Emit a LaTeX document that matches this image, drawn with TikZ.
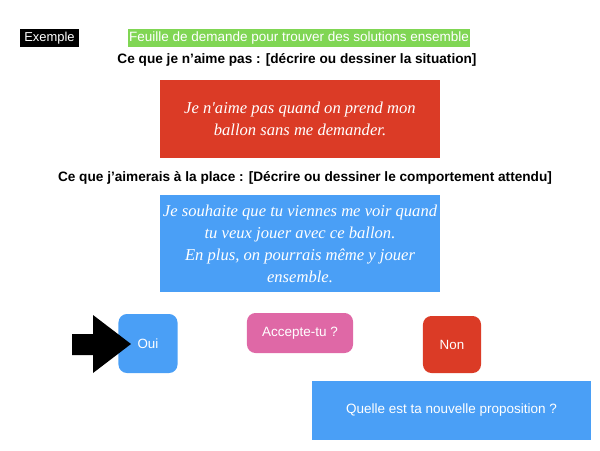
\documentclass[tikz,border=0pt]{standalone}
\usepackage{fontspec}
\setmainfont{Liberation Sans}
\newfontfamily\mainmanuscrite{Liberation Serif}
\definecolor{rouge}{HTML}{DB3B26}
\definecolor{bleu}{HTML}{4A9FF6}
\definecolor{rose}{HTML}{DF68A6}
\definecolor{vert}{HTML}{80D654}
\begin{document}
\begin{tikzpicture}
		[x=0.025cm,y=-0.025cm,
		box/.style={fill=#1,text=white,inner sep=0pt,align=center},
		titre/.style={font=\fontsize{9.7}{11}\selectfont\bfseries},
		manuscrit/.style={font=\fontsize{11.8}{15.6}\mainmanuscrite\itshape}]
		
		\useasboundingbox (0,0) rectangle (600,450);
		
		\node[box=black,minimum width=1.475cm,minimum height=0.45cm,font=\fontsize{9.2}{10}\selectfont] (exemple) at (49.5,38){Exemple};
		\node[box=vert,minimum width=8.55cm,minimum height=0.45cm,font=\fontsize{9.6}{10}\selectfont] (feuille) at (299,38){Feuille de demande pour trouver des solutions ensemble};
		\node[titre] (titreA) at (297,60){Ce que je n'aime pas : [décrire ou dessiner la situation]};
		\node[box=rouge,minimum width=7cm,minimum height=1.95cm,manuscrit] (situation) at (300,119){Je n'aime pas quand on prend mon\\ballon sans me demander.};
		\node[titre] (titreB) at (305,178){Ce que j'aimerais à la place : [Décrire ou dessiner le comportement attendu]};
		\node[box=bleu,minimum width=7cm,minimum height=2.425cm,manuscrit] (souhait) at (300,243.5){Je souhaite que tu viennes me voir quand\\tu veux jouer avec ce ballon.\\En plus, on pourrais même y jouer\\ensemble.};
		
		\node[box=bleu,rounded corners=6pt,minimum width=1.475cm,minimum height=1.475cm,font=\fontsize{9.5}{10}\selectfont] (oui) at (148,343.5){Oui};
		\node[box=rose,rounded corners=6pt,minimum width=2.65cm,minimum height=1cm,font=\fontsize{9.6}{10}\selectfont] (accepte) at (300,333){Accepte-tu ?};
		\node[box=rouge,rounded corners=6pt,minimum width=1.45cm,minimum height=1.425cm,font=\fontsize{9.5}{10}\selectfont] (non) at (452,344.5){Non};
		\node[box=bleu,minimum width=6.975cm,minimum height=1.475cm,font=\fontsize{9.6}{10}\selectfont] (proposition) at (451.5,410.5){Quelle est ta nouvelle proposition ?};
		
		\fill[black] (72,334) -- (93,334) -- (93,315) -- (131,344) -- (93,373) -- (93,355) -- (72,355) -- cycle;
	
	\end{tikzpicture}
\end{document}
